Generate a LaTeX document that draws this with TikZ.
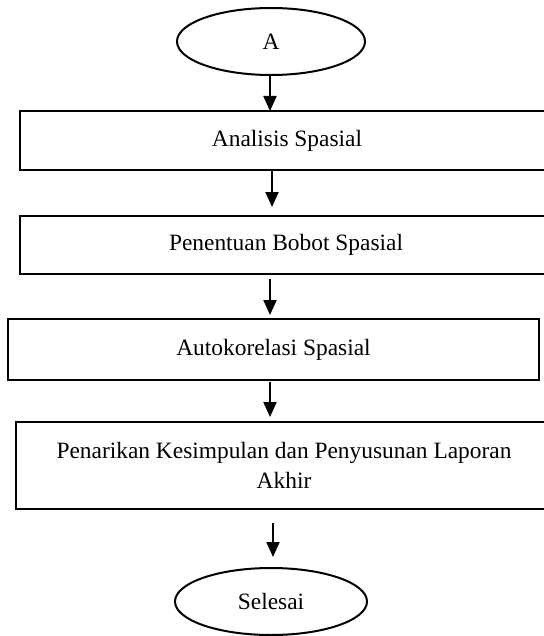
\documentclass[tikz,border=0pt]{standalone}
\usepackage{fontspec}
\setmainfont{Liberation Serif}
\usetikzlibrary{arrows.meta,shapes.geometric}
\begin{document}
\begin{tikzpicture}[x=1bp,y=-1bp,
  every node/.style={font=\fontsize{23.4bp}{30bp}\selectfont},
  procbox/.style={draw,rectangle,line width=2.5bp,inner sep=0pt,align=center},
  term/.style={draw,ellipse,line width=2bp,inner sep=0pt},
  arr/.style={line width=2bp,-{Triangle[length=15bp,width=13bp]}}]
\useasboundingbox (0,0) rectangle (544,636);
\clip (0,0) rectangle (544,636);
\fill[white] (0,0) rectangle (544,636);

\node[term,minimum width=188bp,minimum height=67bp] (A) at (271,41.5) {A};
\node[procbox,minimum width=534bp,minimum height=59bp] (b1) at (287,140.5) {Analisis Spasial};
\node[procbox,minimum width=532bp,minimum height=58bp] (b2) at (286,245) {Penentuan Bobot Spasial};
\node[procbox,minimum width=531bp,minimum height=61bp] (b3) at (273.5,349.5) {Autokorelasi Spasial};
\node[procbox,minimum width=536bp,minimum height=87bp] (b4) at (284,465.5) {Penarikan Kesimpulan dan Penyusunan Laporan\\Akhir};
\node[term,minimum width=192bp,minimum height=67bp] (S) at (271,601.5) {Selesai};

\coordinate (t1) at (270,111);
\coordinate (t2) at (272,207);
\coordinate (t3) at (270,315);
\coordinate (t4) at (270,417);
\coordinate (t5) at (273,557);

\draw[arr] (A.south -| t1) -- (t1);
\draw[arr] (b1.south -| t2) -- (t2);
\draw[arr] ([yshift=-4bp]b2.south -| t3) -- (t3);
\draw[arr] ([yshift=-1bp]b3.south -| t4) -- (t4);
\draw[arr] ([yshift=-13bp]b4.south -| t5) -- (t5);
\end{tikzpicture}
\end{document}
